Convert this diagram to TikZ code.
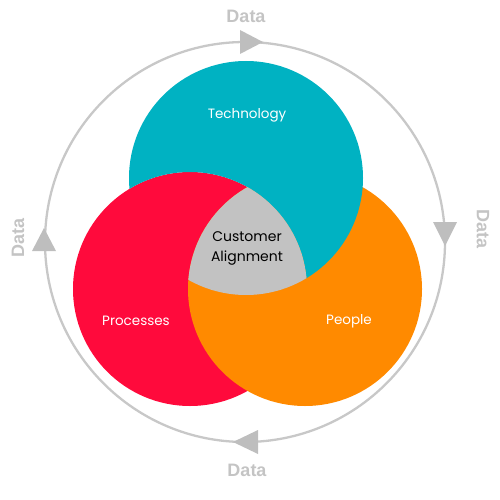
\documentclass[tikz,border=0pt]{standalone}
\usepackage{fontspec}
\setmainfont{Poppins}
\newfontfamily\datafont{Liberation Sans}
\definecolor{techc}{HTML}{00B2C2}
\definecolor{procc}{HTML}{FF0A3C}
\definecolor{peoc}{HTML}{FF8A00}
\definecolor{midc}{HTML}{C2C2C2}
\definecolor{ringc}{HTML}{C8C8C8}
\definecolor{arrc}{HTML}{BEBEBE}
\definecolor{datac}{HTML}{C4C4C4}
\begin{document}
\begin{tikzpicture}[x=1pt,y=-1pt,
  datalbl/.style={font=\datafont\bfseries\fontsize{18}{20}\selectfont,text=datac,inner sep=0pt},
  whitelbl/.style={font=\fontsize{13.5}{16}\selectfont,text=white,inner sep=0pt},
  darklbl/.style={font=\fontsize{14}{20}\selectfont,text=black,inner sep=0pt,align=center},
  ringarrow/.style={fill=arrc,draw=none}]
\useasboundingbox (0,0) rectangle (500,500);
% outer ring
\coordinate (ringc) at (245,242);
\draw[ringc,line width=2.3pt] (ringc) circle[radius=200pt];
% circles
\def\T{(246,178) circle[radius=117pt]}
\def\R{(190,289) circle[radius=117pt]}
\def\O{(305,289) circle[radius=117pt]}
\fill[procc] \R;
\fill[peoc] \O;
\begin{scope}[even odd rule]
  \clip (-10,-10) rectangle (510,510) \R;
  \fill[techc] \T;
\end{scope}
\begin{scope}
  \clip \T;
  \clip \R;
  \clip \O;
  \fill[midc] (0,0) rectangle (500,500);
\end{scope}
% arrowheads
\fill[ringarrow] (263,42) -- (240,30) -- (240,54) -- cycle;
\fill[ringarrow] (445,246) -- (433,222) -- (457,222) -- cycle;
\fill[ringarrow] (233,442) -- (258,430) -- (258,454) -- cycle;
\fill[ringarrow] (44,228) -- (32,251) -- (56,251) -- cycle;
% labels
\node[datalbl] (dtop) at (246,16) {Data};
\node[datalbl,rotate=-90] (dright) at (483,229) {Data};
\node[datalbl] (dbot) at (247,470) {Data};
\node[datalbl,rotate=90] (dleft) at (18,238) {Data};
\node[whitelbl] (tech) at (247,115) {Technology};
\node[whitelbl] (proc) at (136,321) {Processes};
\node[whitelbl] (peo) at (349,321) {People};
\node[darklbl] (cust) at (247,248) {Customer\\Alignment};
\end{tikzpicture}
\end{document}
